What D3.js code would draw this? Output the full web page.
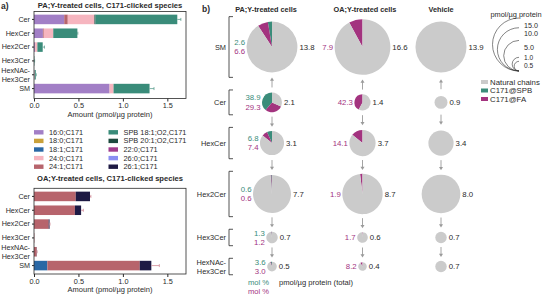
<!DOCTYPE html>
<html><head><meta charset="utf-8">
<script src="https://cdn.jsdelivr.net/npm/d3@7"></script>
<style>body{margin:0;background:#fff} svg{display:block}</style>
</head><body><svg id="c" width="548" height="296"></svg>
<script>
// ---------- DATA ----------
const barCategories = ["Cer","HexCer","Hex2Cer","Hex3Cer","HexNAc-Hex3Cer","SM"];
const legendLabels = ["16:0;C171","18:0;C171","18:1;C171","24:0;C171","24:1;C171",
  "SPB 18:1;O2,C171","SPB 20:1;O2,C171","22:0;C171","26:0;C171","26:1;C171"];
const seriesColors = ["#a27fc6","#c9a13b","#2a68a5","#f6b5bf","#b7646c",
  "#3a8c7a","#1d4a3e","#a13d8c","#8b8ff2","#1e1a44"];
const stackOrder = [0,1,2,4,3,6,5,7,8,9];
const xTicks = [0,0.5,1.0,1.5];

// PA;Y-treated (per legend series, values per category)
const pa16_0  = [0.34,0.10,0.01,0.0,0.003,0.85];
const pa24_0  = [0.30,0.105,0.025,0.001,0.005,0.045];
const pa24_1  = [0.04,0.01,0.003,0,0,0];
const paSpb18 = [0.92,0.27,0.06,0.004,0.012,0.405];
const paSpb20 = [0.012,0.003,0,0,0,0];
const paErr   = [0.04,0.005,0.02,0.002,0.005,0.05];
// OA;Y-treated
const oa18_1  = [0,0,0,0,0,0.15];
const oa24_1  = [0.47,0.46,0.165,0.004,0.03,1.04];
const oa26_1  = [0.16,0.07,0.01,0,0.002,0.13];
const oaErr   = [0.01,0.025,0.005,0,0.003,0.09];
const zeros   = [0,0,0,0,0,0];

// Panel b
const pieRows = ["SM","Cer","HexCer","Hex2Cer","Hex3Cer","HexNAc-Hex3Cer"];
const paTotal = [13.8,2.1,3.1,7.7,0.7,0.5];
const paSPB   = [2.6,38.9,6.8,0.6,1.3,3.6];
const paFA    = [6.6,29.3,7.4,0.6,1.2,3.0];
const oaTotal = [16.6,1.4,3.7,8.7,0.6,0.4];
const oaFA    = [7.9,42.3,14.1,1.9,1.7,8.2];
const vehTotal= [13.9,0.9,3.4,8.0,0.7,0.7];
const sizeLegendValues = [15.0,10.0,5.0,1.0,0.5];
const colTitles = ["PA;Y-treated cells","OA;Y-treated cells","Vehicle"];

// ---------- DRAW ----------
const FONT = '"Liberation Sans", Arial, Helvetica, sans-serif';
const INK = "#2a2a2a";
const svg = d3.select("#c").attr("font-family", FONT);
const TEAL = "#3a8c7a", MAG = "#a3337f", GREY = "#cbcbcb";

svg.append("text").attr("x",1).attr("y",9).attr("font-size",8.5).attr("font-weight","bold").attr("fill",INK).text("a)");
svg.append("text").attr("x",202).attr("y",12).attr("font-size",8.5).attr("font-weight","bold").attr("fill",INK).text("b)");

const x = d3.scaleLinear().domain([0,1.71]).range([34,186]);

function barPanel(cfg){
  const g = svg.append("g");
  const y = d3.scaleBand().domain(barCategories).range([cfg.bandTop,cfg.bandBottom])
    .paddingInner(0.31).paddingOuter(0.155);
  const rows = barCategories.map((c,i)=>{const o={cat:c}; legendLabels.forEach((s,j)=>o[s]=cfg.series[j][i]); return o;});
  const stacked = d3.stack().keys(stackOrder.map(j=>legendLabels[j]))(rows);
  g.selectAll("g.s").data(stacked).join("g")
    .attr("fill",d=>seriesColors[legendLabels.indexOf(d.key)])
    .selectAll("rect").data(d=>d).join("rect")
    .attr("x",d=>x(d[0])).attr("width",d=>Math.max(0,x(d[1])-x(d[0])))
    .attr("y",d=>y(d.data.cat)).attr("height",y.bandwidth());
  rows.forEach((r,i)=>{
    const tot = d3.sum(legendLabels,s=>r[s]); const e = cfg.errs[i];
    if(e<=0) return;
    const cy = y(r.cat)+y.bandwidth()/2;
    g.append("line").attr("x1",x(tot)).attr("x2",x(tot+e)).attr("y1",cy).attr("y2",cy)
      .attr("stroke",cfg.errColor).attr("stroke-width",0.8);
    g.append("line").attr("x1",x(tot+e)).attr("x2",x(tot+e)).attr("y1",cy-1.5).attr("y2",cy+1.5)
      .attr("stroke",cfg.errColor).attr("stroke-width",0.8);
  });
  g.append("rect").attr("x",34).attr("y",cfg.frameTop).attr("width",152)
    .attr("height",cfg.frameBottom-cfg.frameTop).attr("fill","none").attr("stroke",INK).attr("stroke-width",0.8);
  const xa = g.append("g").attr("transform",`translate(0,${cfg.frameBottom})`)
    .call(d3.axisBottom(x).tickValues(xTicks).tickFormat(d3.format(".1f")).tickSize(3).tickPadding(1.5));
  xa.select(".domain").remove();
  xa.selectAll("text").attr("font-size",7.3).attr("font-family",FONT).attr("fill",INK);
  xa.selectAll("line").attr("stroke",INK);
  const ya = g.append("g").attr("transform","translate(34,0)")
    .call(d3.axisLeft(y).tickSize(2).tickPadding(2));
  ya.select(".domain").remove();
  ya.selectAll("line").attr("stroke",INK);
  ya.selectAll("text").attr("font-size",7.2).attr("font-family",FONT).attr("fill",INK)
    .each(function(d){
      if(d.includes("-")){
        const t=d3.select(this); const parts=["HexNAc-","Hex3Cer"];
        t.text(null).attr("dy",null);
        parts.forEach((p,k)=>t.append("tspan").attr("x",-4).attr("dy",k===0?"-0.25em":"1.2em").text(p));
      }
    });
  g.append("text").attr("x",110).attr("y",cfg.titleY).attr("text-anchor","middle")
    .attr("font-size",7.6).attr("font-weight","bold").attr("fill",INK).text(cfg.title);
  g.append("text").attr("x",110).attr("y",cfg.axisTitleY).attr("text-anchor","middle")
    .attr("font-size",7.5).attr("fill",INK).text("Amount (pmol/µg protein)");
}

barPanel({frameTop:11.5,frameBottom:98.5,bandTop:12.5,bandBottom:95.5,titleY:8,axisTitleY:116.5,
  title:"PA;Y-treated cells, C171-clicked species",
  series:[pa16_0,zeros,zeros,pa24_0,pa24_1,paSpb18,paSpb20,zeros,zeros,zeros],
  errs:paErr, errColor:"#5e9f90"});
barPanel({frameTop:188.3,frameBottom:274,bandTop:189.5,bandBottom:272.5,titleY:180.5,axisTitleY:291.8,
  title:"OA;Y-treated cells, C171-clicked species",
  series:[zeros,zeros,oa18_1,zeros,oa24_1,zeros,zeros,zeros,zeros,oa26_1],
  errs:oaErr, errColor:"#d08a95"});

const lg = svg.append("g");
legendLabels.forEach((l,i)=>{
  const col = Math.floor(i/5), row = i%5;
  const lx = col===0?34:108.5, ty = 132.3+row*8.6;
  lg.append("rect").attr("x",lx).attr("y",ty-2.2).attr("width",9.5).attr("height",4.4).attr("fill",seriesColors[i]);
  lg.append("text").attr("x",lx+15).attr("y",ty).attr("dy","0.35em").attr("font-size",7.4).attr("fill",INK).text(l);
});

// ---------- Panel b ----------
const K = 6.84;
const rad = v => K*Math.sqrt(v);
const colX = [272,362.5,441];
const titleX = [266,365,441];
const rowMaxR = pieRows.map((_,i)=>rad(Math.max(paTotal[i],oaTotal[i],vehTotal[i])));
const GAP = 17.6;
const rowY = [];
rowMaxR.forEach((r,i)=>{ rowY.push(i===0?47:rowY[i-1]+rowMaxR[i-1]+GAP+r); });

colTitles.forEach((t,i)=>svg.append("text").attr("x",titleX[i]).attr("y",12).attr("text-anchor","middle")
  .attr("font-size",7.3).attr("font-weight","bold").attr("fill",INK).text(t));

const pie = d3.pie().sort(null).startAngle(0).endAngle(-2*Math.PI).value(d=>d.v);
const arc = d3.arc().innerRadius(0);
const columns = [
  {tot:paTotal, spb:paSPB, fa:paFA},
  {tot:oaTotal, spb:null, fa:oaFA},
  {tot:vehTotal, spb:null, fa:null}
];
const pg = svg.append("g");
columns.forEach((col,ci)=>{
  const cx = colX[ci];
  pieRows.forEach((row,ri)=>{
    const cy = rowY[ri], r = rad(col.tot[ri]);
    const s = col.spb?col.spb[ri]:0, f = col.fa?col.fa[ri]:0;
    const parts = [{v:s,c:TEAL},{v:f,c:MAG},{v:100-s-f,c:GREY}];
    const g = pg.append("g").attr("transform",`translate(${cx},${cy})`);
    g.selectAll("path").data(pie(parts)).join("path")
      .attr("d",d=>arc.outerRadius(r)(d)).attr("fill",d=>d.data.c);
    g.append("text").attr("x",r+2).attr("dy","0.35em").attr("font-size",7.8).attr("fill",INK)
      .text(d3.format(".1f")(col.tot[ri]));
    if(col.spb){
      g.append("text").attr("x",-r-1.5).attr("y",-4.7).attr("dy","0.35em").attr("text-anchor","end")
        .attr("font-size",7.8).attr("fill",TEAL).text(d3.format(".1f")(s));
      g.append("text").attr("x",-r-1.5).attr("y",4.7).attr("dy","0.35em").attr("text-anchor","end")
        .attr("font-size",7.8).attr("fill",MAG).text(d3.format(".1f")(f));
    } else if(col.fa){
      g.append("text").attr("x",-r-1.5).attr("dy","0.35em").attr("text-anchor","end")
        .attr("font-size",7.8).attr("fill",MAG).text(d3.format(".1f")(f));
    }
    if(ri<pieRows.length-1){
      const y0 = cy + r, y1 = rowY[ri+1] - rad(col.tot[ri+1]);
      const mid = (y0+y1)/2, L = 10;
      const up = ri===0;
      const ya = up? mid+L/2 : mid-L/2, yb = up? mid-L/2 : mid+L/2;
      const dir = up?1:-1;
      pg.append("line").attr("x1",cx).attr("x2",cx).attr("y1",ya).attr("y2",yb+dir*2.5)
        .attr("stroke","#9a9a9a").attr("stroke-width",0.9);
      pg.append("path").attr("d",`M${cx},${yb} L${cx-2},${yb+dir*3.2} L${cx+2},${yb+dir*3.2} Z`).attr("fill","#9a9a9a");
    }
  });
});

pieRows.forEach((row,ri)=>{
  const cy = rowY[ri], h = rowMaxR[ri]+2.5;
  const t = pg.append("text").attr("x",226).attr("y",cy).attr("text-anchor","end").attr("font-size",7.4).attr("fill",INK);
  if(row.includes("-")){
    t.append("tspan").attr("x",226).attr("dy","-0.25em").text("HexNAc-");
    t.append("tspan").attr("x",226).attr("dy","1.2em").text("Hex3Cer");
  } else t.attr("dy","0.35em").text(row);
  pg.append("path").attr("d",`M233,${cy-h} H229 V${cy+h} H233`).attr("fill","none").attr("stroke",INK).attr("stroke-width",0.8);
});

svg.append("text").attr("x",248).attr("y",284.5).attr("font-size",7.6).attr("fill",TEAL).text("mol %");
svg.append("text").attr("x",248).attr("y",293.5).attr("font-size",7.6).attr("fill",MAG).text("mol %");
svg.append("text").attr("x",279).attr("y",284.5).attr("font-size",7.6).attr("fill",INK).text("pmol/µg protein (total)");

const sl = svg.append("g");
sl.append("text").attr("x",516).attr("y",17).attr("text-anchor","middle").attr("font-size",7.4).attr("fill",INK).text("pmol/µg protein");
const bx = 519, by = 71;
sizeLegendValues.forEach((v)=>{
  const r = rad(v);
  sl.append("path").attr("d",`M${bx},${by-2*r} A${r},${r} 0 0 0 ${bx},${by}`)
    .attr("fill","none").attr("stroke","#333").attr("stroke-width",0.6);
});
const labelY = [25,33,47.5,58,66];
sizeLegendValues.forEach((v,i)=>sl.append("text").attr("x",524).attr("y",labelY[i]).attr("dy","0.35em")
  .attr("font-size",i>=3?6.6:7.2).attr("fill",INK).text(d3.format(".1f")(v)));

const cl = [["Natural chains",GREY],["C171@SPB",TEAL],["C171@FA",MAG]];
cl.forEach((d,i)=>{
  const yy = 82+i*8.5;
  svg.append("rect").attr("x",481).attr("y",yy-2).attr("width",7).attr("height",4).attr("fill",d[1]);
  svg.append("text").attr("x",490).attr("y",yy).attr("dy","0.35em").attr("font-size",7.8).attr("fill",INK).text(d[0]);
});
</script></body></html>
